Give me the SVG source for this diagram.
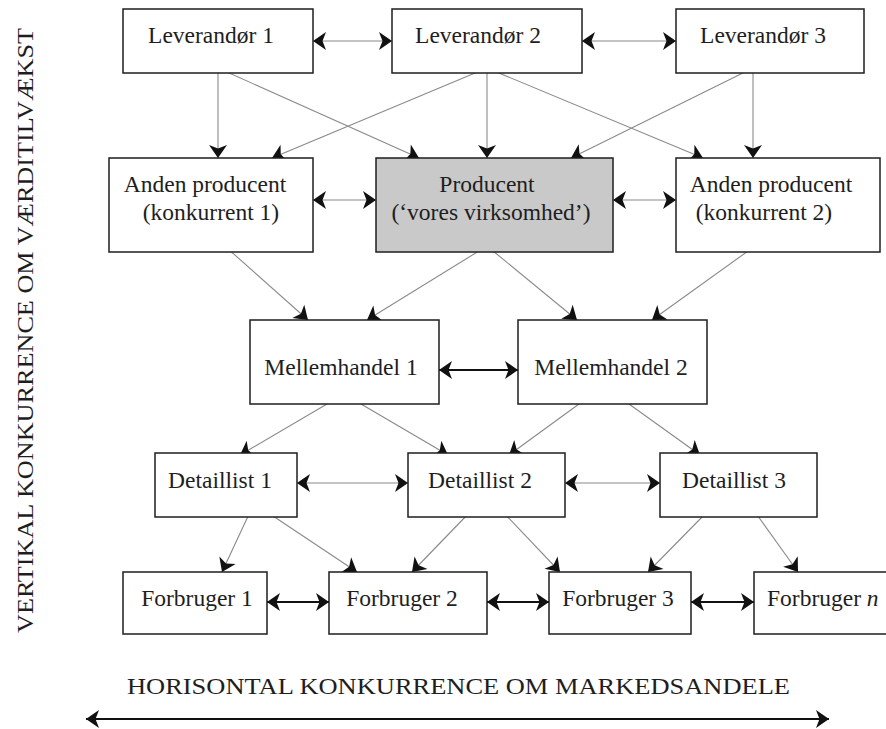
<svg xmlns="http://www.w3.org/2000/svg" width="886" height="729" viewBox="0 0 886 729">
  <style>
    .box { fill: #ffffff; stroke: #1e1e1e; stroke-width: 1.5; }
    .grey { fill: #c9c9c9; }
    .lbl { font-family: "Liberation Serif", "Times New Roman", serif; font-size: 23.5px; fill: #1e1e1e; text-anchor: middle; }
    .axis { font-family: "Liberation Serif", "Times New Roman", serif; font-size: 22.5px; fill: #1e1e1e; text-anchor: middle; }
    .thin { stroke: #8a8a8a; stroke-width: 1.1; fill: none; }
    .thick { stroke: #111111; stroke-width: 2; fill: none; }
  </style>
  <defs>
    <marker id="ah" markerUnits="userSpaceOnUse" markerWidth="16" markerHeight="20" refX="13" refY="9" orient="auto-start-reverse" overflow="visible">
      <path d="M0,0 L13,9 L0,18 L3.5,9 Z" fill="#111111"/>
    </marker>
  </defs>
  <rect width="886" height="729" fill="#ffffff"/>

  <g id="connectors">
    <!-- horizontal double arrows -->
    <line class="thin" x1="313" y1="41" x2="392" y2="41" marker-start="url(#ah)" marker-end="url(#ah)"/>
    <line class="thin" x1="582" y1="41" x2="676" y2="41" marker-start="url(#ah)" marker-end="url(#ah)"/>
    <line class="thin" x1="313" y1="200" x2="376" y2="200" marker-start="url(#ah)" marker-end="url(#ah)"/>
    <line class="thin" x1="613" y1="200" x2="676" y2="200" marker-start="url(#ah)" marker-end="url(#ah)"/>
    <line class="thick" x1="439" y1="370" x2="518" y2="370" marker-start="url(#ah)" marker-end="url(#ah)"/>
    <line class="thin" x1="297" y1="483" x2="408" y2="483" marker-start="url(#ah)" marker-end="url(#ah)"/>
    <line class="thin" x1="565" y1="483" x2="660" y2="483" marker-start="url(#ah)" marker-end="url(#ah)"/>
    <line class="thick" x1="267" y1="602" x2="329" y2="602" marker-start="url(#ah)" marker-end="url(#ah)"/>
    <line class="thick" x1="487" y1="602" x2="549" y2="602" marker-start="url(#ah)" marker-end="url(#ah)"/>
    <line class="thick" x1="691" y1="602" x2="754" y2="602" marker-start="url(#ah)" marker-end="url(#ah)"/>

    <!-- leverandører to producenter -->
    <line class="thin" x1="218" y1="68" x2="218" y2="158" marker-end="url(#ah)"/>
    <line class="thin" x1="218" y1="68" x2="419" y2="158" marker-end="url(#ah)"/>
    <line class="thin" x1="487" y1="68" x2="272" y2="158" marker-end="url(#ah)"/>
    <line class="thin" x1="487" y1="68" x2="487" y2="158" marker-end="url(#ah)"/>
    <line class="thin" x1="487" y1="68" x2="703" y2="158" marker-end="url(#ah)"/>
    <line class="thin" x1="753" y1="68" x2="571" y2="158" marker-end="url(#ah)"/>
    <line class="thin" x1="753" y1="68" x2="753" y2="158" marker-end="url(#ah)"/>

    <!-- producenter to mellemhandel -->
    <line class="thin" x1="218" y1="240" x2="308" y2="320" marker-end="url(#ah)"/>
    <line class="thin" x1="487" y1="246" x2="367" y2="320" marker-end="url(#ah)"/>
    <line class="thin" x1="487" y1="246" x2="577" y2="320" marker-end="url(#ah)"/>
    <line class="thin" x1="755" y1="246" x2="652" y2="320" marker-end="url(#ah)"/>

    <!-- mellemhandel to detaillister -->
    <line class="thin" x1="327" y1="404" x2="240" y2="455" marker-end="url(#ah)"/>
    <line class="thin" x1="361" y1="404" x2="448" y2="455" marker-end="url(#ah)"/>
    <line class="thin" x1="579" y1="404" x2="509" y2="455" marker-end="url(#ah)"/>
    <line class="thin" x1="629" y1="404" x2="700" y2="455" marker-end="url(#ah)"/>

    <!-- detaillister to forbrugere -->
    <line class="thin" x1="250" y1="512" x2="222" y2="572" marker-end="url(#ah)"/>
    <line class="thin" x1="267" y1="512" x2="357" y2="572" marker-end="url(#ah)"/>
    <line class="thin" x1="470" y1="512" x2="412" y2="572" marker-end="url(#ah)"/>
    <line class="thin" x1="503" y1="512" x2="560" y2="572" marker-end="url(#ah)"/>
    <line class="thin" x1="707" y1="512" x2="648" y2="572" marker-end="url(#ah)"/>
    <line class="thin" x1="755" y1="512" x2="798" y2="572" marker-end="url(#ah)"/>

    <!-- bottom axis -->
    <line class="thick" x1="86" y1="719" x2="829" y2="719" marker-start="url(#ah)" marker-end="url(#ah)"/>
  </g>

  <g id="lev1">
    <rect class="box" x="123" y="9" width="190" height="64"/>
    <text class="lbl" x="211" y="43">Leverandør 1</text>
  </g>
  <g id="lev2">
    <rect class="box" x="392" y="9" width="190" height="64"/>
    <text class="lbl" x="478" y="43">Leverandør 2</text>
  </g>
  <g id="lev3">
    <rect class="box" x="676" y="9" width="188" height="64"/>
    <text class="lbl" x="763" y="43">Leverandør 3</text>
  </g>

  <g id="anden1">
    <rect class="box" x="109" y="158" width="204" height="94"/>
    <text class="lbl" x="205" y="192">Anden producent</text>
    <text class="lbl" x="211" y="220">(konkurrent 1)</text>
  </g>
  <g id="producent">
    <rect class="box grey" x="376" y="158" width="237" height="94"/>
    <text class="lbl" x="487" y="192">Producent</text>
    <text class="lbl" x="491" y="220">(‘vores virksomhed’)</text>
  </g>
  <g id="anden2">
    <rect class="box" x="676" y="158" width="204" height="94"/>
    <text class="lbl" x="771" y="192">Anden producent</text>
    <text class="lbl" x="764" y="220">(konkurrent 2)</text>
  </g>

  <g id="mell1">
    <rect class="box" x="250" y="320" width="189" height="84"/>
    <text class="lbl" x="341" y="375">Mellemhandel 1</text>
  </g>
  <g id="mell2">
    <rect class="box" x="518" y="320" width="189" height="84"/>
    <text class="lbl" x="611" y="375">Mellemhandel 2</text>
  </g>

  <g id="det1">
    <rect class="box" x="155" y="453" width="142" height="64"/>
    <text class="lbl" x="220" y="488">Detaillist 1</text>
  </g>
  <g id="det2">
    <rect class="box" x="408" y="453" width="157" height="64"/>
    <text class="lbl" x="480" y="488">Detaillist 2</text>
  </g>
  <g id="det3">
    <rect class="box" x="660" y="453" width="157" height="64"/>
    <text class="lbl" x="734" y="488">Detaillist 3</text>
  </g>

  <g id="forb1">
    <rect class="box" x="123" y="572" width="144" height="62"/>
    <text class="lbl" x="197" y="606">Forbruger 1</text>
  </g>
  <g id="forb2">
    <rect class="box" x="329" y="572" width="158" height="62"/>
    <text class="lbl" x="402" y="606">Forbruger 2</text>
  </g>
  <g id="forb3">
    <rect class="box" x="549" y="572" width="142" height="62"/>
    <text class="lbl" x="618" y="606">Forbruger 3</text>
  </g>
  <g id="forbn">
    <rect class="box" x="754" y="572" width="140" height="62"/>
    <text class="lbl" x="767" y="606" style="text-anchor:start">Forbruger <tspan font-style="italic">n</tspan></text>
  </g>

  <g id="axes">
    <text class="axis" x="458.5" y="694" textLength="663" lengthAdjust="spacingAndGlyphs">HORISONTAL KONKURRENCE OM MARKEDSANDELE</text>
    <text class="axis" transform="translate(32.5,330.5) rotate(-90)" x="0" y="0" textLength="605" lengthAdjust="spacingAndGlyphs">VERTIKAL KONKURRENCE OM VÆRDITILVÆKST</text>
  </g>
</svg>
